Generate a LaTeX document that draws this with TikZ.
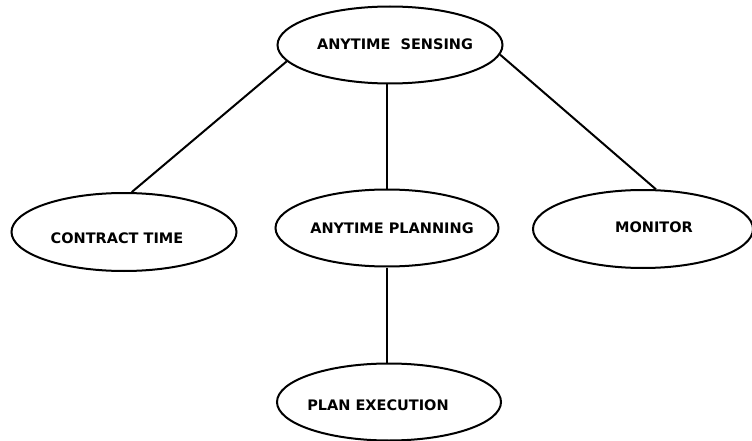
\documentclass[tikz,border=0pt]{standalone}
\usepackage{fontspec}
\setmainfont{DejaVu Sans}
\usetikzlibrary{shapes.geometric}
\begin{document}
\begin{tikzpicture}[x=1pt,y=-1pt,
  oval/.style={draw,ellipse,line width=2pt,inner sep=0pt},
  lbl/.style={font=\bfseries\fontsize{14.5}{17}\selectfont,inner sep=0pt},
  conn/.style={line width=2pt}]
\useasboundingbox (0,0) rectangle (752,441);
\node[oval,minimum width=225pt,minimum height=77pt] (top) at (390,45) {};
\node[oval,minimum width=225pt,minimum height=78pt] (ct) at (124,232) {};
\node[oval,minimum width=223pt,minimum height=77pt] (plan) at (387,228) {};
\node[oval,minimum width=220pt,minimum height=78pt] (mon) at (643,229) {};
\node[oval,minimum width=224pt,minimum height=77pt] (exe) at (389,402) {};
\node[lbl] (topt) at (395,44) {ANYTIME\ \ SENSING};
\node[lbl] (ctt) at (117,238) {CONTRACT TIME};
\node[lbl] (plant) at (392,228) {ANYTIME PLANNING};
\node[lbl] (mont) at (654,227) {MONITOR};
\node[lbl] (exet) at (378,405) {PLAN EXECUTION};
\draw[conn] (top.189) -- (ct.79);
\draw[conn] (plan.north) -- (plan.north |- top.south);
\draw[conn] (top.-5) -- (mon.72);
\draw[conn] (exe.north -| plan.south) -- (plan.south);
\end{tikzpicture}
\end{document}
